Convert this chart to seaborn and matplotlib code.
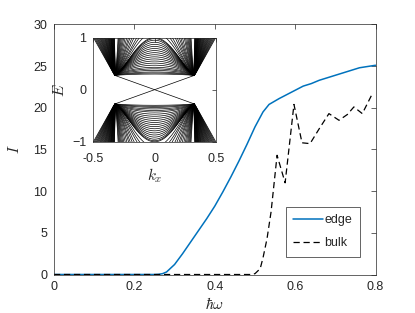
import numpy as np
import pandas as pd
import matplotlib
matplotlib.use("Agg")
import matplotlib.pyplot as plt
import seaborn as sns

# ---------------- main chart data ----------------
omega_edge = [0.0, 0.10, 0.20, 0.25, 0.26, 0.27, 0.28, 0.30, 0.32, 0.34, 0.36, 0.38,
              0.40, 0.42, 0.44, 0.46, 0.48, 0.50, 0.52, 0.535, 0.56, 0.58, 0.60,
              0.62, 0.64, 0.66, 0.68, 0.70, 0.72, 0.74, 0.76, 0.78, 0.80]
I_edge = [0.0, 0.0, 0.0, 0.0, 0.02, 0.1, 0.3, 1.2, 2.5, 3.9, 5.3, 6.7,
          8.2, 9.9, 11.7, 13.6, 15.6, 17.7, 19.5, 20.4, 21.1, 21.6, 22.1,
          22.6, 22.9, 23.3, 23.6, 23.9, 24.2, 24.5, 24.8, 24.95, 25.1]

omega_bulk = [0.0, 0.10, 0.20, 0.30, 0.40, 0.49, 0.50, 0.513, 0.52, 0.53, 0.54, 0.555,
              0.575, 0.597, 0.617, 0.637, 0.66, 0.684, 0.709, 0.73, 0.746, 0.767, 0.79]
I_bulk = [0.0, 0.0, 0.0, 0.0, 0.0, 0.0, 0.1, 0.7, 2.0, 4.3, 7.5, 14.3,
          11.0, 20.4, 15.8, 15.7, 17.5, 19.3, 18.5, 19.2, 20.1, 19.3, 21.5]

series_labels = ["edge", "bulk"]
main_xticks = [0, 0.2, 0.4, 0.6, 0.8]
main_yticks = [0, 5, 10, 15, 20, 25, 30]

# ---------------- inset (ribbon band structure) data ----------------
band_min_k = 0.32      # |k_x| of the conduction-band minimum
band_min_E = 0.27      # energy at that minimum
# energy of each subband's inner branch at k_x = 0 (values > 1 leave the window)
inner_peaks = [0.30, 0.32, 0.34, 0.37, 0.40, 0.43, 0.47, 0.51, 0.55, 0.59, 0.63,
               0.67, 0.71, 0.75, 0.79, 0.83, 0.87, 0.91, 0.95, 0.98, 1.00,
               1.10, 1.20, 1.30, 1.45, 1.60, 1.80, 2.00, 2.30, 2.70, 3.20,
               3.80, 4.60, 5.60, 7.00, 9.00, 12.0]
# |k_x| at which each subband's outer branch reaches E = 1
outer_exit_k = [0.500, 0.492, 0.484, 0.476, 0.469, 0.462, 0.455, 0.448, 0.442,
                0.436, 0.430, 0.424, 0.418, 0.412, 0.407, 0.402, 0.397, 0.392,
                0.387, 0.382, 0.378, 0.374, 0.370, 0.366, 0.362, 0.359, 0.356,
                0.353, 0.350, 0.347, 0.344, 0.341, 0.338, 0.335, 0.332, 0.330, 0.328]
inset_xticks = [-0.5, 0, 0.5]
inset_yticks = [-1, 0, 1]

# ---------------- build band table ----------------
kgrid = np.linspace(-0.5, 0.5, 801)
rows = []
w = 0.03
for n, (h, kx) in enumerate(zip(inner_peaks, outer_exit_k)):
    ak = np.abs(kgrid)
    x = np.clip(ak / band_min_k, 0, 1)
    frac = min((h - band_min_E) / (1 - band_min_E), 1.0)
    p = 0.55 + 0.7 * frac
    e_in = band_min_E + (h - band_min_E) * np.cos(np.pi / 2 * x) ** p
    rise = np.sqrt((1 - band_min_E + w) ** 2 - w ** 2)
    s = rise / (kx - band_min_k)
    e_out = band_min_E + np.sqrt(w ** 2 + (s * (ak - band_min_k)) ** 2) - w
    e = np.where(ak < band_min_k, e_in, e_out)
    e = np.clip(e, -3, 3)
    for sign in (1, -1):
        rows.append(pd.DataFrame({"k": kgrid, "E": sign * e, "band": f"{n}_{sign}"}))
edge_k = [-band_min_k, band_min_k]
rows.append(pd.DataFrame({"k": edge_k, "E": [band_min_E, -band_min_E], "band": "edgeA"}))
rows.append(pd.DataFrame({"k": edge_k, "E": [-band_min_E, band_min_E], "band": "edgeB"}))
bands = pd.concat(rows, ignore_index=True)

# ---------------- plotting ----------------
sns.set_theme(style="white")
plt.rcParams["font.family"] = ["Liberation Sans", "DejaVu Sans"]
plt.rcParams["mathtext.fontset"] = "cm"

dark = "#262626"
fig = plt.figure(figsize=(4.15, 3.13), dpi=100)
ax = fig.add_axes([0.130, 0.123, 0.775, 0.799])

main_df = pd.DataFrame({
    "omega": omega_edge + omega_bulk,
    "I": I_edge + I_bulk,
    "series": [series_labels[0]] * len(omega_edge) + [series_labels[1]] * len(omega_bulk),
})
sns.lineplot(data=main_df[main_df.series == "edge"], x="omega", y="I", ax=ax,
             color="#0072BD", lw=1.1, label="edge")
sns.lineplot(data=main_df[main_df.series == "bulk"], x="omega", y="I", ax=ax,
             color="black", lw=0.9, linestyle=(0, (5, 3)), label="bulk")

ax.set_xlim(0, 0.8)
ax.set_ylim(0, 30)
ax.set_xticks(main_xticks)
ax.set_xticklabels([f"{t:g}" for t in main_xticks])
ax.set_yticks(main_yticks)
ax.set_xlabel(r"$\hbar\omega$", fontsize=11, labelpad=1.5, color=dark)
ax.set_ylabel(r"$I$", fontsize=11, labelpad=8, color=dark)
for sp in ax.spines.values():
    sp.set_color(dark)
    sp.set_linewidth(0.5)
ax.tick_params(direction="in", length=3.5, width=0.5, colors=dark, labelsize=9,
               top=True, right=True, pad=5)

leg = ax.legend(loc="lower right", bbox_to_anchor=(0.970, 0.045), frameon=True,
                fancybox=False, framealpha=1, edgecolor=dark, fontsize=9,
                handlelength=2.4, handletextpad=0.1, labelspacing=0.9, borderpad=0.6)
leg.get_frame().set_linewidth(0.5)

# inset
axi = fig.add_axes([0.225, 0.547, 0.295, 0.333])
axi.set_facecolor("white")
sns.lineplot(data=bands, x="k", y="E", units="band", estimator=None, ax=axi,
             color="black", lw=0.5, legend=False)
axi.set_xlim(-0.5, 0.5)
axi.set_ylim(-1, 1)
axi.set_xticks(inset_xticks)
axi.set_xticklabels([f"{t:g}" for t in inset_xticks])
axi.set_yticks(inset_yticks)
axi.set_xlabel(r"$k_x$", fontsize=11, labelpad=1, color=dark)
axi.set_ylabel(r"$E$", fontsize=11, labelpad=4, color=dark)
for sp in axi.spines.values():
    sp.set_color(dark)
    sp.set_linewidth(0.5)
axi.tick_params(direction="in", length=3, width=0.5, colors=dark, labelsize=9,
                top=True, right=True)
axi.tick_params(axis="x", pad=8)
axi.tick_params(axis="y", pad=5)

fig.savefig("out.png", dpi=100)
